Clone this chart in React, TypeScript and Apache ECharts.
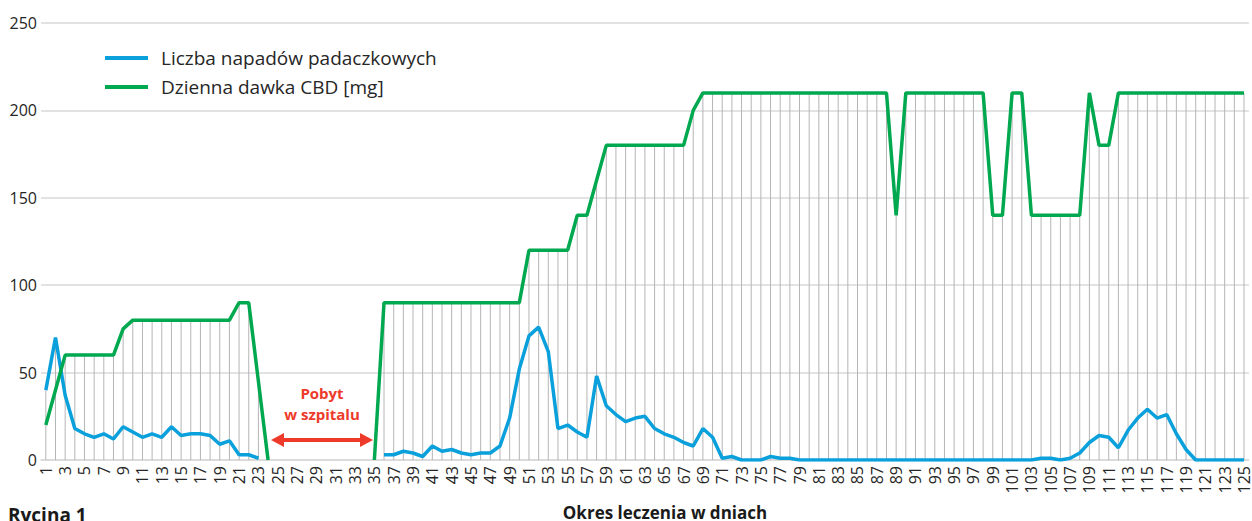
import React, { useEffect, useRef } from "react";
import * as echarts from "echarts";

const days: string[] = [
  "1","2","3","4","5","6","7","8","9","10","11","12","13","14","15","16","17","18","19","20",
  "21","22","23","24","25","26","27","28","29","30","31","32","33","34","35","36","37","38","39","40",
  "41","42","43","44","45","46","47","48","49","50","51","52","53","54","55","56","57","58","59","60",
  "61","62","63","64","65","66","67","68","69","70","71","72","73","74","75","76","77","78","79","80",
  "81","82","83","84","85","86","87","88","89","90","91","92","93","94","95","96","97","98","99","100",
  "101","102","103","104","105","106","107","108","109","110","111","112","113","114","115","116","117","118","119","120",
  "121","122","123","124","125",
];

const seizures: (number | null)[] = [
  40, 70, 37, 18, 15, 13, 15, 12, 19, 16,
  13, 15, 13, 19, 14, 15, 15, 14, 9, 11,
  3, 3, 1, null, null, null, null, null, null, null,
  null, null, null, null, null, 3, 3, 5, 4, 2,
  8, 5, 6, 4, 3, 4, 4, 8, 24, 52,
  71, 76, 62, 18, 20, 16, 13, 48, 31, 26,
  22, 24, 25, 18, 15, 13, 10, 8, 18, 13,
  1, 2, 0, 0, 0, 2, 1, 1, 0, 0,
  0, 0, 0, 0, 0, 0, 0, 0, 0, 0,
  0, 0, 0, 0, 0, 0, 0, 0, 0, 0,
  0, 0, 0, 1, 1, 0, 1, 4, 10, 14,
  13, 7, 17, 24, 29, 24, 26, 15, 6, 0,
  0, 0, 0, 0, 0,
];

const doseCBD: (number | null)[] = [
  20, 40, 60, 60, 60, 60, 60, 60, 75, 80,
  80, 80, 80, 80, 80, 80, 80, 80, 80, 80,
  90, 90, 45, 0, null, null, null, null, null, null,
  null, null, null, null, 0, 90, 90, 90, 90, 90,
  90, 90, 90, 90, 90, 90, 90, 90, 90, 90,
  120, 120, 120, 120, 120, 140, 140, 160, 180, 180,
  180, 180, 180, 180, 180, 180, 180, 200, 210, 210,
  210, 210, 210, 210, 210, 210, 210, 210, 210, 210,
  210, 210, 210, 210, 210, 210, 210, 210, 140, 210,
  210, 210, 210, 210, 210, 210, 210, 210, 140, 140,
  210, 210, 140, 140, 140, 140, 140, 140, 210, 180,
  180, 210, 210, 210, 210, 210, 210, 210, 210, 210,
  210, 210, 210, 210, 210,
];

const yTicks = { min: 0, max: 250, interval: 50 };
const seriesNames = ["Liczba napadów padaczkowych", "Dzienna dawka CBD [mg]"];
const xTitle = "Okres leczenia w dniach";
const figureLabel = "Rycina 1";
const annotation = "Pobyt\nw szpitalu";

const FONT = "'Open Sans', 'Noto Sans', sans-serif";
const BLUE = "#0aa0dc";
const GREEN = "#00a84f";
const RED = "#ee3a2a";

export default function App() {
  const ref = useRef<HTMLDivElement>(null);

  useEffect(() => {
    if (!ref.current) return;
    const chart = echarts.init(ref.current, null, { renderer: "svg" });

    const dropData: [number, number][] = [];
    days.forEach((_, i) => {
      const a = seizures[i];
      const b = doseCBD[i];
      if (a == null && b == null) return;
      dropData.push([i, Math.max(a ?? 0, b ?? 0)]);
    });

    const arrowY = 440;
    const ax1 = 271;
    const ax2 = 373;

    chart.setOption({
      animation: false,
      textStyle: { fontFamily: FONT },
      grid: { left: 41, right: 1, top: 23, bottom: 61, containLabel: false },
      legend: {
        orient: "vertical",
        left: 100,
        top: 42,
        icon: "rect",
        itemWidth: 43,
        itemHeight: 4,
        itemGap: 7,
        data: seriesNames,
        textStyle: {
          fontSize: 19,
          lineHeight: 22,
          color: "#262626",
          fontFamily: FONT,
          padding: [0, 0, 0, 8],
        },
      },
      xAxis: {
        type: "category",
        data: days,
        boundaryGap: true,
        axisLine: { lineStyle: { color: "#d9d9d9", width: 1.5 } },
        axisTick: { show: false },
        axisLabel: {
          interval: 1,
          rotate: 90,
          fontSize: 16,
          color: "#262626",
          margin: 6,
          fontFamily: FONT,
        },
      },
      yAxis: {
        type: "value",
        min: yTicks.min,
        max: yTicks.max,
        interval: yTicks.interval,
        axisLine: { show: false },
        axisTick: { show: false },
        axisLabel: { fontSize: 16, color: "#262626", margin: 4, fontFamily: FONT },
        splitLine: { lineStyle: { color: "#d9d9d9", width: 1.5 } },
      },
      series: [
        {
          type: "custom",
          name: "drop",
          silent: true,
          z: 1,
          data: dropData,
          renderItem: (params: any, api: any) => {
            const x = api.value(0);
            const m = api.value(1);
            const top = api.coord([x, m]);
            const bottom = api.coord([x, 0]);
            return {
              type: "line",
              shape: { x1: top[0], y1: top[1], x2: bottom[0], y2: bottom[1] },
              style: { stroke: "#b5b5b5", lineWidth: 1 },
            };
          },
        },
        {
          type: "line",
          name: seriesNames[0],
          data: seizures,
          symbol: "none",
          z: 3,
          lineStyle: { color: BLUE, width: 3.5 },
          itemStyle: { color: BLUE },
        },
        {
          type: "line",
          name: seriesNames[1],
          data: doseCBD,
          symbol: "none",
          z: 4,
          lineStyle: { color: GREEN, width: 3.5 },
          itemStyle: { color: GREEN },
        },
      ],
      graphic: [
        {
          type: "text",
          x: 322,
          y: 403,
          style: {
            text: annotation,
            align: "center",
            verticalAlign: "middle",
            fill: RED,
            font: `bold 15px ${FONT}`,
            lineHeight: 21,
          },
        },
        {
          type: "line",
          shape: { x1: ax1 + 10, y1: arrowY, x2: ax2 - 10, y2: arrowY },
          style: { stroke: RED, lineWidth: 4 },
        },
        {
          type: "polygon",
          shape: { points: [[ax1, arrowY], [ax1 + 13, arrowY - 7], [ax1 + 13, arrowY + 7]] },
          style: { fill: RED },
        },
        {
          type: "polygon",
          shape: { points: [[ax2, arrowY], [ax2 - 13, arrowY - 7], [ax2 - 13, arrowY + 7]] },
          style: { fill: RED },
        },
        {
          type: "text",
          x: 665,
          y: 512,
          style: {
            text: xTitle,
            align: "center",
            verticalAlign: "middle",
            fill: "#1a1a1a",
            font: `bold 17px ${FONT}`,
          },
        },
        {
          type: "text",
          x: 8,
          y: 505,
          style: {
            text: figureLabel,
            align: "left",
            verticalAlign: "top",
            fill: "#1a1a1a",
            font: `bold 19px ${FONT}`,
          },
        },
      ],
    });

    return () => chart.dispose();
  }, []);

  return (
    <div
      ref={ref}
      style={{ position: "fixed", left: 0, top: 0, width: 1252, height: 521, background: "#fff" }}
    />
  );
}
